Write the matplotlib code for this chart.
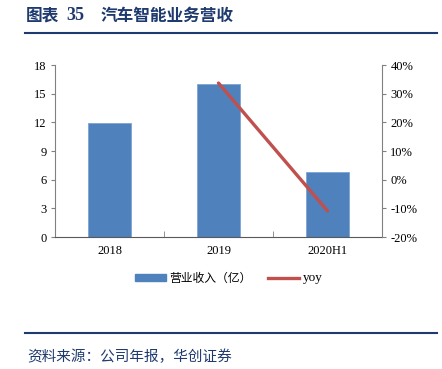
import matplotlib
matplotlib.use("Agg")
import matplotlib.pyplot as plt
from matplotlib.lines import Line2D
from matplotlib.patches import Patch
from matplotlib.ticker import FuncFormatter

categories = ["2018", "2019", "2020H1"]
revenue = [11.9, 16.0, 6.8]
yoy_cats = ["2019", "2020H1"]
yoy = [33.7, -10.9]

title_label = "图表"
title_num = "35"
title_text = "汽车智能业务营收"
source = "资料来源：公司年报，华创证券"
bar_label = "营业收入（亿）"
line_label = "yoy"

W, H = 442, 369
fig = plt.figure(figsize=(W / 100, H / 100), dpi=100)
cjk = ["Noto Sans CJK SC", "DejaVu Sans"]
serif = ["Liberation Serif", "DejaVu Serif"]
navy = "#1F3A6E"

ax = fig.add_axes([55 / W, (H - 237) / H, (382 - 55) / W, (237 - 65) / H])
x = list(range(len(categories)))
ax.bar(x, revenue, width=0.4, color="#4F81BD", edgecolor="#7FA3D4", linewidth=0.6, zorder=2)
ax.set_xlim(-0.5, len(categories) - 0.5)
ax.set_ylim(0, 18)
ax.set_yticks(range(0, 19, 3))
ax.set_xticks(x)
ax.set_xticklabels(categories, fontfamily=serif, fontsize=9)
ax.set_xticks([0.5, 1.5], minor=True)
ax.tick_params(axis="x", which="major", length=0, pad=6)
ax.tick_params(axis="x", which="minor", length=4, direction="in", color="#808080")
ax.tick_params(axis="y", length=3, direction="out", color="#808080", labelsize=9, pad=3)
for lab in ax.get_yticklabels():
    lab.set_fontfamily(serif)
for s in ["top", "right"]:
    ax.spines[s].set_visible(False)
ax.spines["left"].set_color("#808080")
ax.spines["bottom"].set_color("#595959")

ax2 = ax.twinx()
xi = [categories.index(c) for c in yoy_cats]
ax2.plot(xi, yoy, color="#C0504D", linewidth=2.4, solid_capstyle="round", zorder=3)
ax2.set_ylim(-20, 40)
ax2.set_yticks(range(-20, 41, 10))
ax2.yaxis.set_major_formatter(FuncFormatter(lambda v, p: f"{int(v)}%"))
ax2.tick_params(axis="y", length=3, direction="out", color="#808080", labelsize=9, pad=3)
for lab in ax2.get_yticklabels():
    lab.set_fontfamily(serif)
for s in ["top", "left", "bottom"]:
    ax2.spines[s].set_visible(False)
ax2.spines["right"].set_color("#808080")

handles = [Patch(facecolor="#4F81BD", edgecolor="#4F81BD"),
           Line2D([0], [0], color="#C0504D", linewidth=2.4)]
leg = fig.legend(handles, [bar_label, line_label], loc="center",
                 bbox_to_anchor=(229 / W, (H - 278) / H), ncol=2, frameon=False,
                 handlelength=2.6, handleheight=0.5, columnspacing=1.4,
                 handletextpad=0.3, prop={"family": cjk, "size": 8.5})
leg.get_texts()[1].set_fontfamily(serif)
leg.get_texts()[1].set_fontsize(9.5)

ty = (H - 16) / H
fig.text(26 / W, ty, title_label, fontfamily=cjk, fontsize=12, fontweight="bold",
         color=navy, va="center", ha="left")
fig.text(66 / W, ty, title_num, fontfamily=serif, fontsize=13, fontweight="bold",
         color=navy, va="center", ha="left")
fig.text(101 / W, ty, title_text, fontfamily=cjk, fontsize=12, fontweight="bold",
         color=navy, va="center", ha="left")
fig.add_artist(Line2D([25 / W, 437 / W], [(H - 33) / H] * 2, color=navy, linewidth=1.5))
fig.add_artist(Line2D([25 / W, 437 / W], [(H - 333) / H] * 2, color=navy, linewidth=1.5))
fig.text(27 / W, (H - 357) / H, source, fontfamily=cjk, fontsize=10.5, style="italic",
         color=navy, va="center", ha="left")

fig.savefig("out.png", dpi=100)
